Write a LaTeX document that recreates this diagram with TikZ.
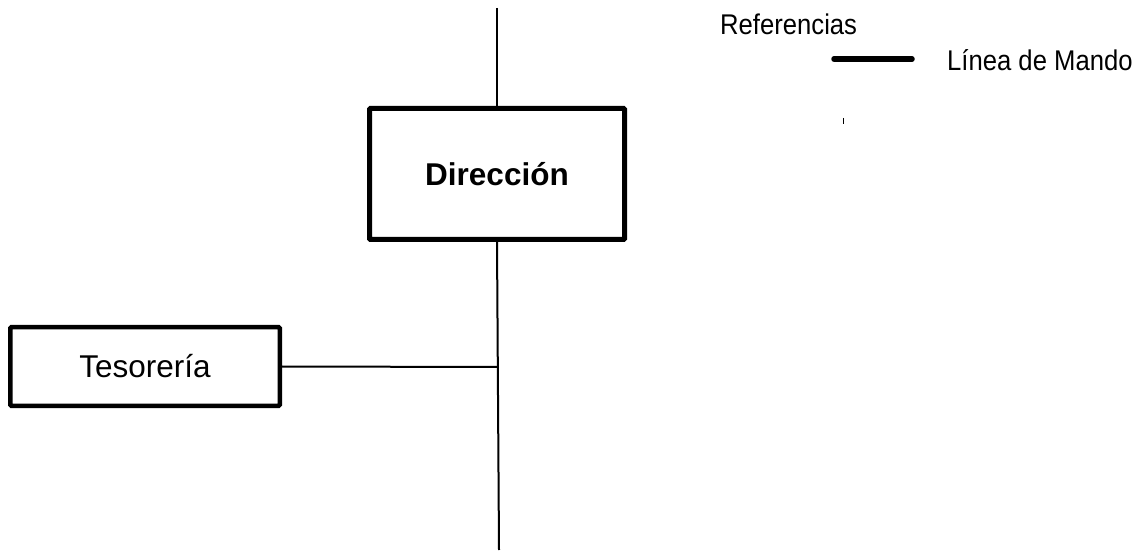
\documentclass[tikz,border=0pt]{standalone}
\usepackage{fontspec}
\setmainfont{Liberation Sans}
\newcommand{\narrowtext}[1]{\scalebox{0.9}[1]{#1}}
\begin{document}
\begin{tikzpicture}[x=1pt,y=-1pt,
  unitbox/.style={draw=black,line width=5pt,rounded corners=1pt,inner sep=0pt,align=center},
  mando/.style={draw=black,line width=2pt},
  legendline/.style={draw=black,line width=5.5pt,line cap=round},
  legendtext/.style={inner sep=0pt,font=\fontsize{28.5}{32}\selectfont}]
  \useasboundingbox (0,0) rectangle (1141,553);

  % organisation units
  \node[unitbox,minimum width=255pt,minimum height=131pt,font=\fontsize{31.5}{36}\selectfont\bfseries]
    (dir) at (497,174) {Dirección};
  \node[unitbox,line width=4.5pt,minimum width=269.5pt,minimum height=78.5pt,font=\fontsize{31.5}{36}\selectfont]
    (tes) at (145,366.5) {Tesorería};

  % chain of command
  \coordinate (top) at (497,8);
  \coordinate (bottom) at (499,550);
  \coordinate (junction) at (498.5,367);
  \draw[mando] (top) -- (dir.north);
  \draw[mando] (dir.south) -- (bottom);
  \draw[mando] (tes.east) -- (junction);

  % legend
  \node[legendtext,anchor=base west] (ref) at (720,35) {\narrowtext{Referencias}};
  \coordinate (lgA) at (834,59);
  \coordinate (lgB) at (912,59);
  \draw[legendline] (lgA) -- (lgB);
  \node[legendtext,anchor=base west] (mando) at (947,71) {\narrowtext{Línea de Mando}};
  \coordinate (tkA) at (843.5,118);
  \coordinate (tkB) at (843.5,124);
  \draw[line width=1.5pt] (tkA) -- (tkB);
\end{tikzpicture}
\end{document}
